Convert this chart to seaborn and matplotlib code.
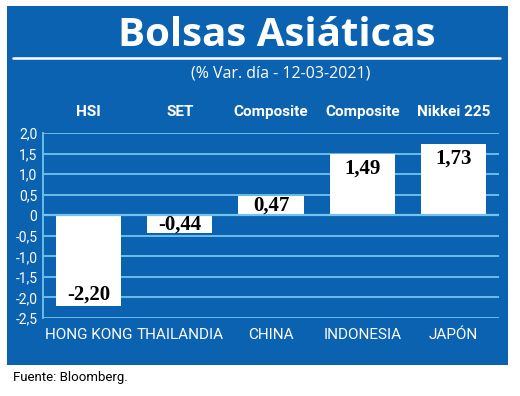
import matplotlib
matplotlib.use("Agg")
import matplotlib.pyplot as plt
import seaborn as sns
import pandas as pd
from matplotlib.patches import Rectangle
from matplotlib.lines import Line2D

countries = ["HONG KONG", "THAILANDIA", "CHINA", "INDONESIA", "JAPÓN"]
indices = ["HSI", "SET", "Composite", "Composite", "Nikkei 225"]
values = [-2.20, -0.44, 0.47, 1.49, 1.73]
value_labels = ["-2,20", "-0,44", "0,47", "1,49", "1,73"]
yticks = [2.0, 1.5, 1.0, 0.5, 0, -0.5, -1.0, -1.5, -2.0, -2.5]
ytick_labels = ["2,0", "1,5", "1,0", "0,5", "0", "-0,5", "-1,0", "-1,5", "-2,0", "-2,5"]

BLUE = "#0b62b0"
GRID = "#72c4ef"
W, H = 520, 396

sns.set_theme(style="white")
plt.rcParams["font.family"] = ["Roboto", "DejaVu Sans"]

fig = plt.figure(figsize=(W / 100, H / 100), dpi=100)
fig.patch.set_facecolor("white")

def fx(px):
    return px / W

def fy(py):
    return 1 - py / H

fig.patches.append(Rectangle((fx(7), fy(365)), fx(508) - fx(7), fy(6) - fy(365),
                             transform=fig.transFigure, facecolor=BLUE, edgecolor="none", zorder=-5))
fig.lines.append(Line2D([fx(13), fx(500)], [fy(57.5), fy(57.5)], transform=fig.transFigure,
                        color="white", lw=1.8))

fig.text(fx(277), fy(35), "Bolsas Asiáticas", ha="center", va="center", color="white",
         fontsize=29, fontweight="bold", family=["Open Sans", "DejaVu Sans"])
fig.text(fx(281), fy(73), "(% Var. día - 12-03-2021)", ha="center", va="center", color="white",
         fontsize=11.5, family=["Open Sans", "DejaVu Sans"])
fig.text(fx(13), fy(378), "Fuente: Bloomberg.", ha="left", va="center", color="black",
         fontsize=9.5)

ax = fig.add_axes([fx(43), fy(318), fx(499) - fx(43), fy(133) - fy(318)])
ax.set_facecolor("none")
ax.set_zorder(2)

df = pd.DataFrame({"country": countries, "value": values})
sns.barplot(data=df, x="country", y="value", color="white", saturation=1, width=0.714,
            ax=ax, zorder=3, edgecolor="none")

ax.set_xlim(-0.5, 4.5)
ax.set_ylim(-2.5, 2.0)
ax.set_yticks(yticks)
ax.set_yticklabels(ytick_labels, color="white", fontsize=10)
ax.set_xlabel("")
ax.set_ylabel("")
ax.tick_params(axis="y", length=0, pad=4)
ax.tick_params(axis="x", length=0, pad=7)
ax.set_xticks(range(len(countries)))
ax.set_xticklabels(countries, color="white", fontsize=11)
for y in yticks:
    ax.axhline(y, color=GRID, lw=1.3, zorder=1)
ax.axhline(0, color=GRID, lw=1.6, zorder=4)
for s in ["top", "right", "bottom"]:
    ax.spines[s].set_visible(False)
ax.spines["left"].set_color(GRID)
ax.spines["left"].set_linewidth(1.3)

for i, (v, lab) in enumerate(zip(values, value_labels)):
    if v >= 1:
        xy, off, va = (i, v), (0, -3), "top"
    elif v <= -1:
        xy, off, va = (i, v), (0, 1), "bottom"
    else:
        xy, off, va = (i, v / 2), (0, 0), "center"
    ax.annotate(lab, xy, xytext=off, textcoords="offset points", ha="center", va=va,
                fontsize=15, fontweight="bold", family="Liberation Serif", color="black", zorder=5)

top_y = 1 + (133 - 112) / (318 - 133)
for i, name in enumerate(indices):
    ax.text(i, top_y, name, transform=ax.get_xaxis_transform(), ha="center", va="center",
            color="white", fontsize=11, fontweight="bold")

fig.savefig("out.png", dpi=100, facecolor="white")
